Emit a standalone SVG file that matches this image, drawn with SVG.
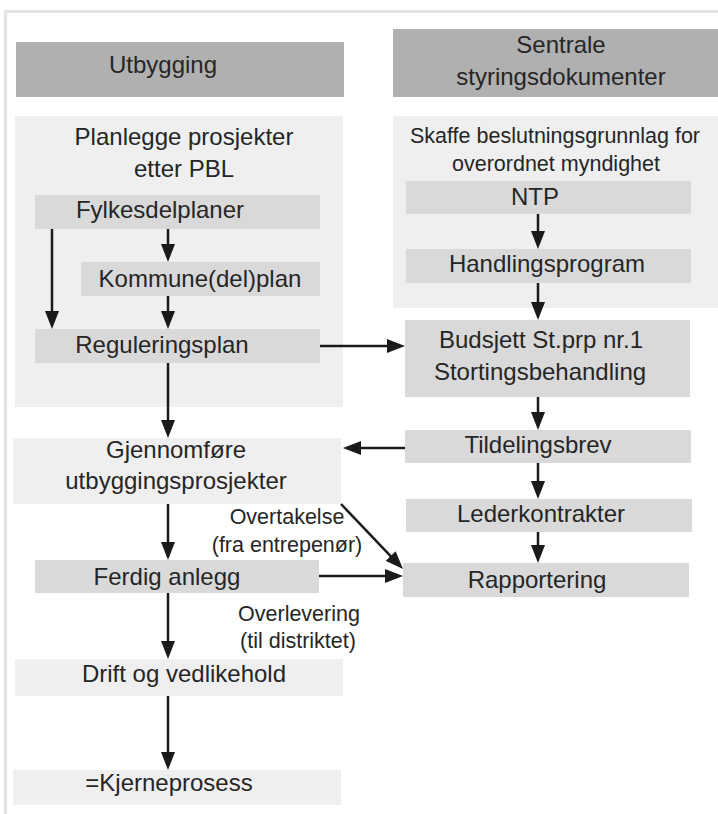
<svg xmlns="http://www.w3.org/2000/svg" width="718" height="814" viewBox="0 0 718 814">
<style>
text{font-family:"Liberation Sans",Arial,sans-serif;font-size:24px;fill:#262626;text-anchor:middle}
.sm{font-size:21.5px}
.hdr{fill:#b0b0b0}
.lt{fill:#efefef}
.md{fill:#d9d9d9}
.frame{stroke:#e3e3e3;stroke-width:3;fill:none}
.con line{stroke:#1a1a1a;stroke-width:2.5}
</style>
<defs>
<marker id="ah" markerUnits="userSpaceOnUse" markerWidth="18" markerHeight="14" refX="8" refY="7" orient="auto">
<path d="M0,0 L18,7 L0,14 z" fill="#1a1a1a"/>
</marker>
</defs>
<rect width="718" height="814" fill="#ffffff"/>
<path class="frame" d="M5.5,814 V11.5 H718"/>

<g id="utbygging"><rect class="hdr" x="16" y="42" width="328" height="55"/><text x="163" y="73">Utbygging</text></g>
<g id="sentrale"><rect class="hdr" x="393" y="29" width="325" height="68"/><text x="561" y="53">Sentrale</text><text x="561" y="85">styringsdokumenter</text></g>

<g id="planlegge"><rect class="lt" x="15" y="116" width="328" height="291"/><text x="184" y="145">Planlegge prosjekter</text><text x="184" y="177">etter PBL</text></g>
<g id="skaffe"><rect class="lt" x="393" y="116" width="325" height="192"/><text x="555" y="143" class="sm">Skaffe beslutningsgrunnlag for</text><text x="556" y="171" class="sm">overordnet myndighet</text></g>

<g id="fylkesdelplaner"><rect class="md" x="35" y="195" width="285" height="34"/><text x="160" y="218">Fylkesdelplaner</text></g>
<g id="kommuneplan"><rect class="md" x="81" y="262" width="239" height="34"/><text x="200" y="287">Kommune(del)plan</text></g>
<g id="reguleringsplan"><rect class="md" x="35" y="329" width="285" height="34"/><text x="162" y="353">Reguleringsplan</text></g>

<g id="ntp"><rect class="md" x="406" y="181" width="285" height="33"/><text x="535" y="205">NTP</text></g>
<g id="handlingsprogram"><rect class="md" x="406" y="249" width="285" height="34"/><text x="547" y="272">Handlingsprogram</text></g>
<g id="budsjett"><rect class="md" x="405" y="320" width="285" height="77"/><text x="541" y="348">Budsjett St.prp nr.1</text><text x="540" y="380">Stortingsbehandling</text></g>

<g id="gjennomfore"><rect class="lt" x="13" y="438" width="328" height="66"/><text x="176" y="458">Gjennomføre</text><text x="176" y="489">utbyggingsprosjekter</text></g>
<g id="tildelingsbrev"><rect class="md" x="405" y="430" width="286" height="33"/><text x="538" y="453">Tildelingsbrev</text></g>
<g id="lederkontrakter"><rect class="md" x="406" y="499" width="286" height="33"/><text x="541" y="522">Lederkontrakter</text></g>
<g id="rapportering"><rect class="md" x="403" y="563" width="286" height="34"/><text x="537" y="588">Rapportering</text></g>
<g id="ferdig"><rect class="md" x="35" y="560" width="284" height="33"/><text x="167" y="585">Ferdig anlegg</text></g>
<g id="drift"><rect class="lt" x="15" y="659" width="328" height="37"/><text x="184" y="682">Drift og vedlikehold</text></g>
<g id="kjerneprosess"><rect class="lt" x="13" y="770" width="328" height="35"/><text x="169" y="791">=Kjerneprosess</text></g>

<g id="connectors" class="con">
<line x1="52" y1="229" x2="52" y2="319" marker-end="url(#ah)"/>
<line x1="168" y1="229" x2="168" y2="252" marker-end="url(#ah)"/>
<line x1="168" y1="296" x2="168" y2="319" marker-end="url(#ah)"/>
<line x1="320" y1="346" x2="395" y2="346" marker-end="url(#ah)"/>
<line x1="168" y1="363" x2="168" y2="428" marker-end="url(#ah)"/>
<line x1="538" y1="214" x2="538" y2="239" marker-end="url(#ah)"/>
<line x1="538" y1="283" x2="538" y2="310" marker-end="url(#ah)"/>
<line x1="538" y1="397" x2="538" y2="420" marker-end="url(#ah)"/>
<line x1="405" y1="448" x2="353" y2="448" marker-end="url(#ah)"/>
<line x1="538" y1="463" x2="538" y2="489" marker-end="url(#ah)"/>
<line x1="538" y1="532" x2="538" y2="553" marker-end="url(#ah)"/>
<line x1="168" y1="504" x2="168" y2="550" marker-end="url(#ah)"/>
<line x1="319" y1="576" x2="393" y2="576" marker-end="url(#ah)"/>
<line x1="341" y1="504" x2="396.1" y2="561.8" marker-end="url(#ah)"/>
<line x1="168" y1="593" x2="168" y2="649" marker-end="url(#ah)"/>
<line x1="168" y1="696" x2="168" y2="760" marker-end="url(#ah)"/>
</g>

<g id="labels">
<text class="sm" x="287" y="524">Overtakelse</text>
<text class="sm" x="287" y="552">(fra entrepenør)</text>
<text class="sm" x="299" y="621">Overlevering</text>
<text class="sm" x="298" y="648">(til distriktet)</text>
</g>
</svg>
